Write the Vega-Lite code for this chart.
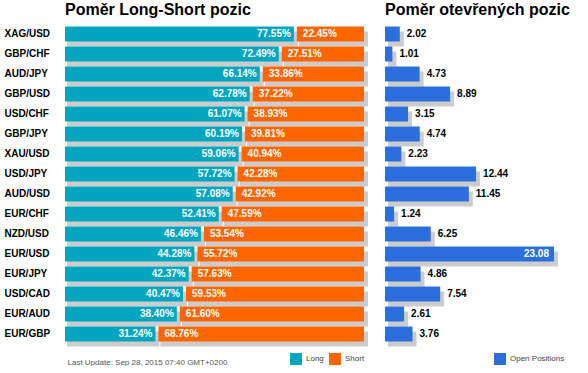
{
  "$schema": "https://vega.github.io/schema/vega-lite/v6.json",
  "padding": {"left": 4, "top": 2, "right": 0, "bottom": 0},
  "background": "white",
  "bounds": "flush",
  "spacing": 21,
  "config": {
    "view": {"stroke": null},
    "font": "Liberation Sans",
    "locale": {"number": {"decimal": ".", "thousands": ",", "grouping": [3], "currency": ["", "%"]}}
  },
  "data": {"values": [
    {"pair": "XAG/USD", "long": 77.55, "short": 22.45, "oi": 2.02},
    {"pair": "GBP/CHF", "long": 72.49, "short": 27.51, "oi": 1.01},
    {"pair": "AUD/JPY", "long": 66.14, "short": 33.86, "oi": 4.73},
    {"pair": "GBP/USD", "long": 62.78, "short": 37.22, "oi": 8.89},
    {"pair": "USD/CHF", "long": 61.07, "short": 38.93, "oi": 3.15},
    {"pair": "GBP/JPY", "long": 60.19, "short": 39.81, "oi": 4.74},
    {"pair": "XAU/USD", "long": 59.06, "short": 40.94, "oi": 2.23},
    {"pair": "USD/JPY", "long": 57.72, "short": 42.28, "oi": 12.44},
    {"pair": "AUD/USD", "long": 57.08, "short": 42.92, "oi": 11.45},
    {"pair": "EUR/CHF", "long": 52.41, "short": 47.59, "oi": 1.24},
    {"pair": "NZD/USD", "long": 46.46, "short": 53.54, "oi": 6.25},
    {"pair": "EUR/USD", "long": 44.28, "short": 55.72, "oi": 23.08},
    {"pair": "EUR/JPY", "long": 42.37, "short": 57.63, "oi": 4.86},
    {"pair": "USD/CAD", "long": 40.47, "short": 59.53, "oi": 7.54},
    {"pair": "EUR/AUD", "long": 38.40, "short": 61.60, "oi": 2.61},
    {"pair": "EUR/GBP", "long": 31.24, "short": 68.76, "oi": 3.76}
  ]},
  "hconcat": [
    {
      "width": 299,
      "height": 320,
      "title": {"text": "Poměr Long-Short pozic", "anchor": "start", "frame": "group", "fontSize": 16, "fontWeight": "bold", "color": "#000000", "font": "Liberation Sans", "offset": 6},
      "encoding": {
        "y": {"field": "pair", "type": "nominal", "sort": null,
          "scale": {"paddingInner": 0.25, "paddingOuter": 0.125},
          "axis": {"title": null, "ticks": false, "tickSize": 0, "domain": false, "labelAlign": "left", "labelPadding": 61, "labelFontSize": 10, "labelFontWeight": "bold", "labelColor": "#000000", "labelFont": "Liberation Sans"}},
        "x": {"field": "long", "type": "quantitative", "scale": {"domain": [0, 100], "nice": false},
          "axis": {"title": "Last Update: Sep 28, 2015 07:40 GMT+0200", "labels": false, "ticks": false, "domain": false, "grid": false, "titleAnchor": "start", "titleAlign": "left", "titleFontSize": 8, "titleFontWeight": "normal", "titleColor": "#555555", "titleFont": "Liberation Sans", "titlePadding": 14, "titleX": 2}}
      },
      "layer": [
        {
          "mark": {"type": "bar", "color": "#cccccc", "xOffset": 1, "x2Offset": 2, "yOffset": 5},
          "encoding": {"x2": {"datum": 0}}
        },
        {
          "mark": {"type": "bar", "color": "#cccccc", "xOffset": 2, "x2Offset": 4, "yOffset": 5},
          "encoding": {"x2": {"datum": 100}}
        },
        {
          "mark": {"type": "bar", "xOffset": -3},
          "encoding": {
            "x2": {"datum": 0},
            "color": {"datum": "Long",
              "scale": {"domain": ["Long", "Short"], "range": ["#00a5bf", "#ff6600"]},
              "legend": {"orient": "none", "legendX": 225, "legendY": 329, "direction": "horizontal", "title": null, "symbolType": "square", "symbolSize": 144, "symbolStrokeWidth": 0, "symbolOpacity": 1, "labelFontSize": 8, "labelColor": "#444444", "labelFont": "Liberation Sans", "labelOffset": 4, "columnPadding": 5, "padding": 0}}
          }
        },
        {
          "mark": {"type": "bar"},
          "encoding": {
            "x2": {"datum": 100},
            "color": {"datum": "Short"}
          }
        },
        {
          "mark": {"type": "text", "align": "right", "baseline": "middle", "dx": -6, "color": "#ffffff", "fontSize": 10, "fontWeight": "bold", "font": "Liberation Sans"},
          "encoding": {
            "text": {"field": "long", "type": "quantitative", "format": "$.2f"}
          }
        },
        {
          "mark": {"type": "text", "align": "left", "baseline": "middle", "dx": 6, "color": "#ffffff", "fontSize": 10, "fontWeight": "bold", "font": "Liberation Sans"},
          "encoding": {
            "text": {"field": "short", "type": "quantitative", "format": "$.2f"}
          }
        }
      ]
    },
    {
      "width": 169,
      "height": 320,
      "title": {"text": "Poměr otevřených pozic", "anchor": "start", "frame": "group", "fontSize": 16, "fontWeight": "bold", "color": "#000000", "font": "Liberation Sans", "offset": 6},
      "encoding": {
        "y": {"field": "pair", "type": "nominal", "sort": null,
          "scale": {"paddingInner": 0.25, "paddingOuter": 0.125}, "axis": null},
        "x": {"field": "oi", "type": "quantitative", "scale": {"domain": [0, 23.08], "nice": false}, "axis": null}
      },
      "layer": [
        {
          "mark": {"type": "bar", "color": "#cccccc", "xOffset": 4, "x2Offset": 3, "yOffset": 5},
          "encoding": {"x2": {"datum": 0}}
        },
        {
          "mark": {"type": "bar"},
          "encoding": {
            "x2": {"datum": 0},
            "color": {"datum": "Open Positions",
              "scale": {"domain": ["Open Positions"], "range": ["#2a6fdb"]},
              "legend": {"orient": "none", "legendX": 109, "legendY": 329, "direction": "horizontal", "title": null, "symbolType": "square", "symbolSize": 144, "symbolStrokeWidth": 0, "symbolOpacity": 1, "labelFontSize": 8, "labelColor": "#444444", "labelFont": "Liberation Sans", "labelOffset": 4, "padding": 0}}
          }
        },
        {
          "transform": [{"filter": "datum.oi < 20"}],
          "mark": {"type": "text", "align": "left", "baseline": "middle", "dx": 7, "color": "#000000", "fontSize": 10, "fontWeight": "bold", "font": "Liberation Sans"},
          "encoding": {
            "text": {"field": "oi", "type": "quantitative", "format": ".2f"}
          }
        },
        {
          "transform": [{"filter": "datum.oi >= 20"}],
          "mark": {"type": "text", "align": "right", "baseline": "middle", "dx": -5, "color": "#ffffff", "fontSize": 10, "fontWeight": "bold", "font": "Liberation Sans"},
          "encoding": {
            "text": {"field": "oi", "type": "quantitative", "format": ".2f"}
          }
        }
      ]
    }
  ],
  "resolve": {"scale": {"color": "independent"}, "legend": {"color": "independent"}}
}
